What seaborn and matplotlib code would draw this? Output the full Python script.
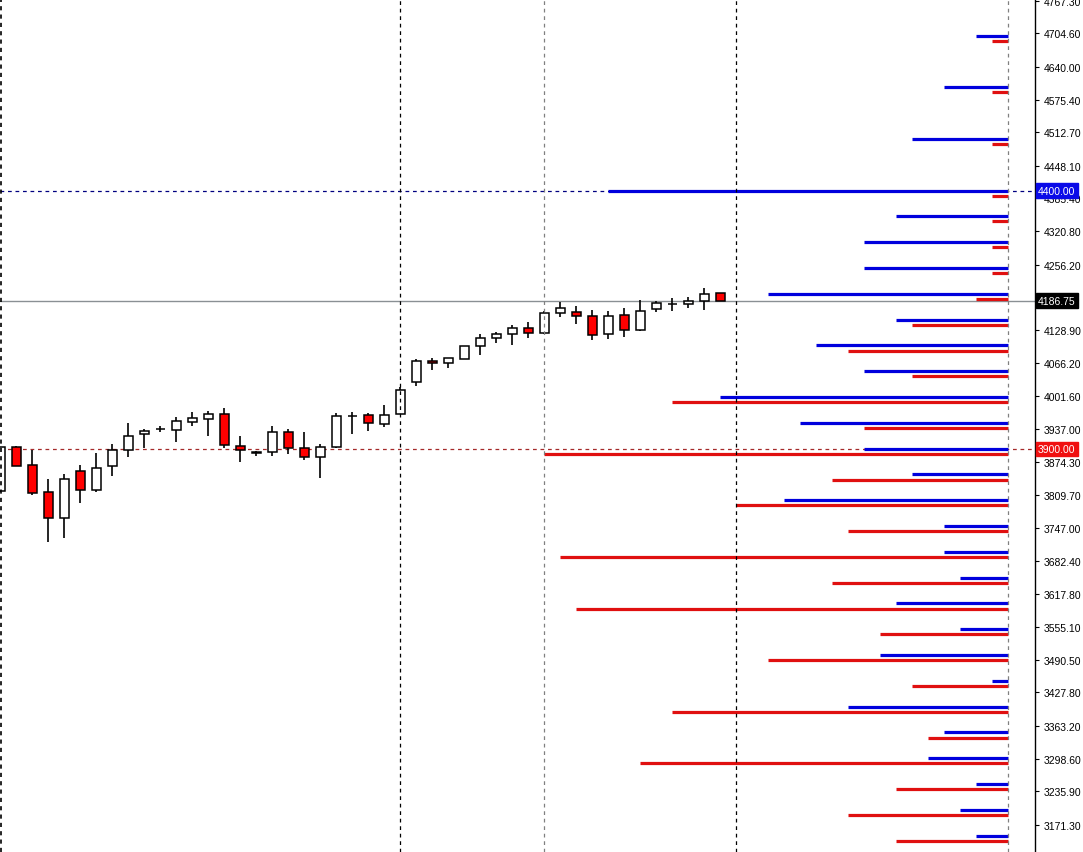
import matplotlib
matplotlib.use("Agg")
import matplotlib.pyplot as plt
import matplotlib.transforms as mtransforms
import numpy as np
import pandas as pd
import seaborn as sns

# daily candles
opens = [3817.2, 3902.5, 3867.6, 3815.3, 3764.9, 3856.0, 3819.2, 3865.7, 3896.7, 3927.7,
         3937.4, 3935.4, 3950.9, 3956.7, 3966.4, 3904.4, 3892.0, 3892.8, 3931.6, 3900.6,
         3883.1, 3902.5, 3962.6, 3964.5, 3947.1, 3966.4, 4028.4, 4069.1, 4065.2, 4073.0,
         4098.2, 4113.7, 4121.4, 4133.1, 4123.4, 4162.1, 4164.1, 4156.3, 4121.4, 4158.2,
         4129.2, 4169.9, 4180.0, 4179.6, 4185.4, 4200.9]
highs = [3904.0, 3905.6, 3897.3, 3840.5, 3850.2, 3867.6, 3890.9, 3908.3, 3949.0, 3938.0,
         3943.2, 3960.6, 3970.3, 3972.2, 3978.1, 3923.8, 3894.7, 3943.2, 3937.4, 3931.6,
         3908.3, 3968.4, 3970.3, 3968.4, 3983.9, 4018.7, 4073.0, 4074.9, 4074.9, 4098.2,
         4121.4, 4125.3, 4138.9, 4144.7, 4166.0, 4183.4, 4175.7, 4167.9, 4166.0, 4171.8,
         4187.3, 4185.4, 4191.2, 4193.1, 4210.6, 4200.9]
lows = [3815.0, 3865.7, 3810.7, 3718.4, 3727.3, 3795.2, 3815.3, 3846.3, 3883.1, 3900.6,
        3931.6, 3912.2, 3943.2, 3923.8, 3900.6, 3873.4, 3885.1, 3885.1, 3888.9, 3877.3,
        3842.4, 3900.6, 3927.7, 3933.5, 3941.2, 3966.4, 4020.7, 4051.7, 4055.6, 4073.0,
        4080.7, 4104.0, 4100.1, 4113.7, 4121.4, 4154.4, 4140.8, 4109.8, 4111.7, 4115.6,
        4127.2, 4164.1, 4166.0, 4171.8, 4167.9, 4185.4]
closes = [3902.5, 3865.7, 3813.4, 3764.9, 3840.5, 3819.2, 3861.8, 3896.7, 3923.8, 3933.5,
          3938.0, 3952.9, 3958.7, 3966.4, 3906.4, 3896.7, 3892.6, 3931.6, 3900.6, 3883.1,
          3902.5, 3962.6, 3963.1, 3949.0, 3964.5, 4012.9, 4069.1, 4065.2, 4074.9, 4098.2,
          4113.7, 4121.4, 4133.1, 4123.4, 4162.1, 4171.8, 4156.3, 4119.5, 4156.3, 4129.2,
          4166.0, 4181.5, 4180.6, 4185.4, 4198.9, 4186.75]

# option open interest by strike (calls blue, puts red)
strikes = [4700, 4600, 4500, 4400, 4350, 4300, 4250, 4200, 4150, 4100, 4050, 4000, 3950, 3900,
           3850, 3800, 3750, 3700, 3650, 3600, 3550, 3500, 3450, 3400, 3350, 3300, 3250, 3200, 3150]
call_oi = [2, 4, 6, 25, 7, 9, 9, 15, 7, 12, 9, 18, 13, 9,
           6, 14, 4, 4, 3, 7, 3, 8, 1, 10, 4, 5, 2, 3, 2]
put_oi = [1, 1, 1, 1, 1, 1, 1, 2, 6, 10, 6, 21, 9, 29,
          11, 17, 10, 28, 11, 27, 8, 15, 6, 21, 5, 23, 7, 10, 7]

price_ticks = [4767.30, 4704.60, 4640.00, 4575.40, 4512.70, 4448.10, 4385.40, 4320.80, 4256.20,
               4128.90, 4066.20, 4001.60, 3937.00, 3874.30, 3809.70, 3747.00, 3682.40, 3617.80,
               3555.10, 3490.50, 3427.80, 3363.20, 3298.60, 3235.90, 3171.30]

last_price = 4186.75
call_level = 4400
put_level = 3900
period_lines = [25, 34, 46, 63]

sns.set_style("white")
plt.rcParams['font.family'] = ['Liberation Sans', 'DejaVu Sans']

fig = plt.figure(figsize=(10.83, 8.53), dpi=100)
ax = fig.add_axes([0, 0, 1035 / 1083, 1])

df = pd.DataFrame({"open": opens, "high": highs, "low": lows, "close": closes})
df["x"] = np.arange(len(df))

# candles
ax.vlines(df["x"], df["low"], df["high"], color="black", lw=1.2, zorder=3)
bull = df["close"] >= df["open"]
body_lo = df[["open", "close"]].min(axis=1)
body_h = (df["close"] - df["open"]).abs().clip(lower=0.8)
ax.bar(df["x"][bull], body_h[bull], bottom=body_lo[bull], width=0.6,
       color="white", edgecolor="black", lw=1.1, zorder=4)
ax.bar(df["x"][~bull], body_h[~bull], bottom=body_lo[~bull], width=0.6,
       color="#ff0000", edgecolor="black", lw=1.1, zorder=4)

# open interest bars from the right edge
oi = pd.DataFrame({"strike": strikes, "calls": call_oi, "puts": put_oi})
anchor = 63
ax.hlines(oi["strike"], anchor - oi["calls"], anchor, color="#0000dd", lw=2.3, zorder=2)
ax.hlines(oi["strike"] - 10, anchor - oi["puts"], anchor, color="#e01010", lw=2.3, zorder=2)

# separators
for xv in period_lines:
    col = "black" if xv in (25, 46) else "#808080"
    ax.axvline(xv, color=col, lw=0.9, ls=(0, (3, 3)), zorder=5)
ax.axvline(0.02, color="black", lw=1.2, ls=(0, (2.5, 2.5)), zorder=5)

ax.axhline(call_level, color="#000080", lw=0.9, ls=(0, (3, 3)), zorder=1)
ax.axhline(put_level, color="#a52a2a", lw=0.9, ls=(0, (3, 3)), zorder=1)
ax.axhline(last_price, color="#8a9094", lw=1.0, zorder=1)

ax.set_xlim(-0.03, 64.66)
ax.set_ylim(3118.4, 4771.05)

ax.yaxis.tick_right()
ax.set_yticks(price_ticks)
ax.set_yticklabels([f"{v:.2f}" for v in price_ticks])
ax.tick_params(axis="y", direction="out", length=3, width=0.8, pad=3,
               labelsize=7.5, colors="black", right=True, left=False)
ax.set_xticks([])
for s in ["top", "left", "bottom"]:
    ax.spines[s].set_visible(False)
ax.spines["right"].set_color("black")
ax.spines["right"].set_linewidth(1.0)

trans = mtransforms.blended_transform_factory(ax.transAxes, ax.transData)
for val, bg in [(call_level, "#0a0ae8"), (last_price, "black"), (put_level, "#f01010")]:
    ax.text(1.003, val, f"{val:.2f}", transform=trans, ha="left", va="center",
            fontsize=7.5, color="white", zorder=10, clip_on=False,
            bbox=dict(boxstyle="square,pad=0.2", fc=bg, ec=bg))

fig.savefig("out.png", dpi=100)
